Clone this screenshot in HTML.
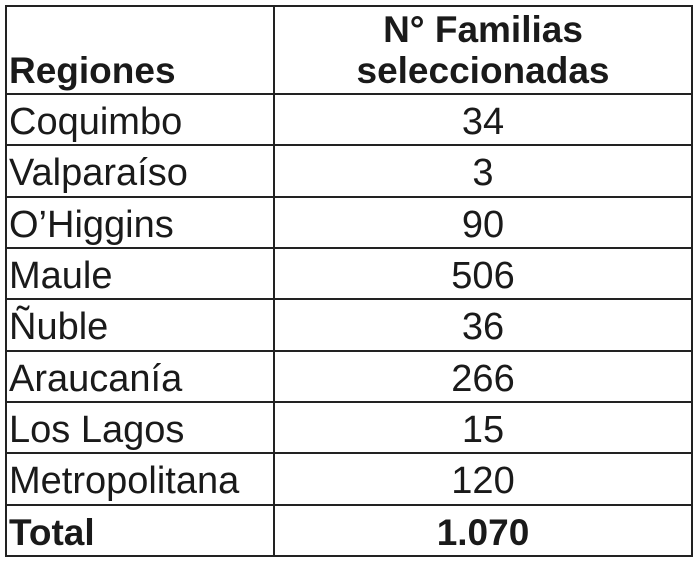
<!DOCTYPE html>
<html><head><meta charset="utf-8"><style>
body{margin:0;background:#fff;width:698px;height:564px;position:relative;overflow:hidden;font-family:"Liberation Sans",Arial,sans-serif;color:#1a1a1a}
.h{position:absolute;left:5px;width:688px;height:2px;background:#222}
.v{position:absolute;top:5px;height:552px;width:2px;background:#222}
.t{position:absolute;font-size:38px;line-height:38px;white-space:nowrap}
.l{left:9px}
.r{left:274px;width:418px;text-align:center}
.b{font-weight:bold;font-size:37px;line-height:37px}
</style></head><body>
<div class="h" style="top:5px"></div>
<div class="h" style="top:93px"></div>
<div class="h" style="top:144px"></div>
<div class="h" style="top:196px"></div>
<div class="h" style="top:247px"></div>
<div class="h" style="top:298px"></div>
<div class="h" style="top:350px"></div>
<div class="h" style="top:401px"></div>
<div class="h" style="top:452px"></div>
<div class="h" style="top:504px"></div>
<div class="h" style="top:555px"></div>
<div class="v" style="left:5px"></div>
<div class="v" style="left:273px"></div>
<div class="v" style="left:691px"></div>

<div class="t l b" style="top:52px">Regiones</div>
<div class="t r b" style="top:11px">N° Familias</div>
<div class="t r b" style="top:52px">seleccionadas</div>

<div class="t l" style="top:103px">Coquimbo</div><div class="t r" style="top:103px">34</div>
<div class="t l" style="top:154px">Valparaíso</div><div class="t r" style="top:154px">3</div>
<div class="t l" style="top:206px">O’Higgins</div><div class="t r" style="top:206px">90</div>
<div class="t l" style="top:257px">Maule</div><div class="t r" style="top:257px">506</div>
<div class="t l" style="top:308px">Ñuble</div><div class="t r" style="top:308px">36</div>
<div class="t l" style="top:360px">Araucanía</div><div class="t r" style="top:360px">266</div>
<div class="t l" style="top:411px">Los Lagos</div><div class="t r" style="top:411px">15</div>
<div class="t l" style="top:462px">Metropolitana</div><div class="t r" style="top:462px">120</div>
<div class="t l b" style="top:514px">Total</div><div class="t r b" style="top:514px">1.070</div>
</body></html>
